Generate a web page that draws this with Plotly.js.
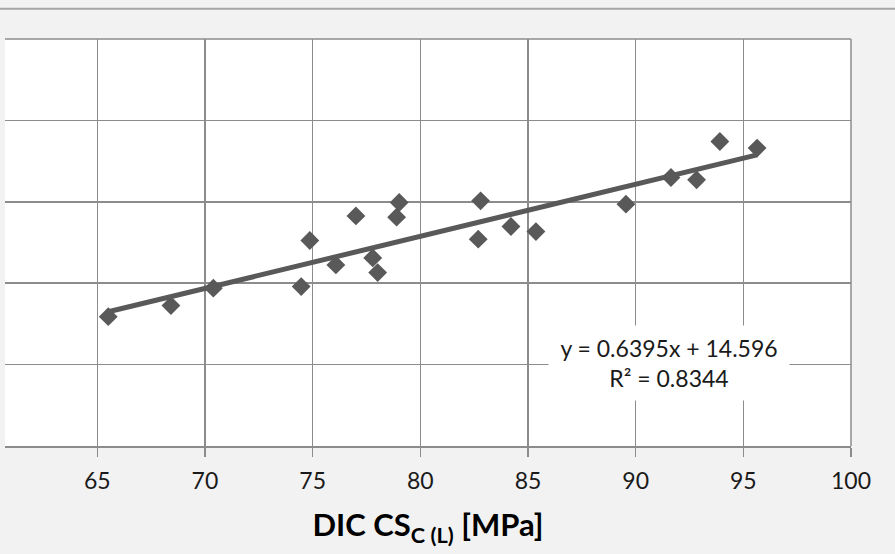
<!DOCTYPE html>
<html>
<head>
<meta charset="utf-8">
<script src="https://cdn.plot.ly/plotly-3.0.1.min.js"></script>
<style>html,body{margin:0;padding:0;background:#f2f2f2;}#chart{width:895px;height:554px;}</style>
</head>
<body>
<div id="chart"></div>
<script>
const dicCS = [65.51, 68.42, 70.39, 74.47, 74.87, 76.08, 77.01, 77.79, 78.02, 78.90, 79.02, 82.69, 82.80, 84.21, 85.37, 89.55, 91.64, 92.83, 93.91, 95.64];
const measuredCS = [55.89, 57.25, 59.39, 59.58, 65.24, 62.25, 68.27, 63.11, 61.30, 68.11, 69.91, 65.41, 70.12, 66.96, 66.34, 69.71, 72.98, 72.70, 77.41, 76.60];
const slope = 0.6395;
const intercept = 14.596;
const rSquared = 0.8344;
const xTicks = [65, 70, 75, 80, 85, 90, 95, 100];

const xMin = Math.min(...dicCS), xMax = Math.max(...dicCS);
const trendX = [xMin, xMax];
const trendY = trendX.map(v => slope * v + intercept);

const data = [
  {x: dicCS, y: measuredCS, type: 'scatter', mode: 'markers',
   marker: {symbol: 'diamond', size: 14.5, color: '#595959'}, hoverinfo: 'none'},
  {x: trendX, y: trendY, type: 'scatter', mode: 'lines',
   line: {color: '#595959', width: 5}, hoverinfo: 'none'}
];

const layout = {
  width: 895, height: 554,
  margin: {l: 5, r: 44, t: 39, b: 108},
  paper_bgcolor: '#f2f2f2', plot_bgcolor: '#ffffff',
  showlegend: false,
  font: {family: 'Lato, "Open Sans", sans-serif', color: '#000000'},
  xaxis: {
    range: [60.715, 100], tickvals: xTicks, ticktext: xTicks.map(String),
    showgrid: true, gridcolor: '#8c8c8c', gridwidth: 1.5,
    showline: true, linecolor: '#8c8c8c', linewidth: 1.5,
    ticks: 'outside', ticklen: 9, tickcolor: '#8c8c8c', tickwidth: 1.5,
    ticklabelstandoff: 5,
    tickfont: {size: 23, family: 'Lato, sans-serif', color: '#1a1a1a'},
    zeroline: false,
    title: {text: '<b>DIC CS<sub>C (L)</sub> [MPa]</b>', font: {size: 31, family: 'Lato, sans-serif', color: '#000000'}, standoff: 21}
  },
  yaxis: {
    range: [40, 90], dtick: 10, tick0: 0,
    showgrid: true, gridcolor: '#8c8c8c', gridwidth: 1.5,
    showticklabels: false, showline: false, zeroline: false, ticks: ''
  },
  shapes: [
    {type: 'line', xref: 'paper', yref: 'paper', x0: -0.01, x1: 1.06, y0: 1.0745, y1: 1.0745,
     line: {color: '#a6a6a6', width: 2}},
    {type: 'line', xref: 'paper', yref: 'paper', x0: 1, x1: 1, y0: 0, y1: 1,
     line: {color: '#8c8c8c', width: 1.5}},
    {type: 'line', xref: 'paper', yref: 'paper', x0: 0, x1: 1, y0: 1, y1: 1,
     line: {color: '#8c8c8c', width: 1.5}}
  ],
  annotations: [
    {xref: 'x', yref: 'y', x: 91.55, y: 50.2, xanchor: 'center', yanchor: 'middle',
     text: 'y = ' + slope + 'x + ' + intercept + '<br>R² = ' + rSquared,
     showarrow: false, bgcolor: '#ffffff', borderpad: 0, width: 240, height: 74,
     font: {size: 23, family: 'Lato, sans-serif', color: '#1a1a1a'}}
  ]
};

Plotly.newPlot('chart', data, layout, {displayModeBar: false, staticPlot: true});
</script>
</body>
</html>
